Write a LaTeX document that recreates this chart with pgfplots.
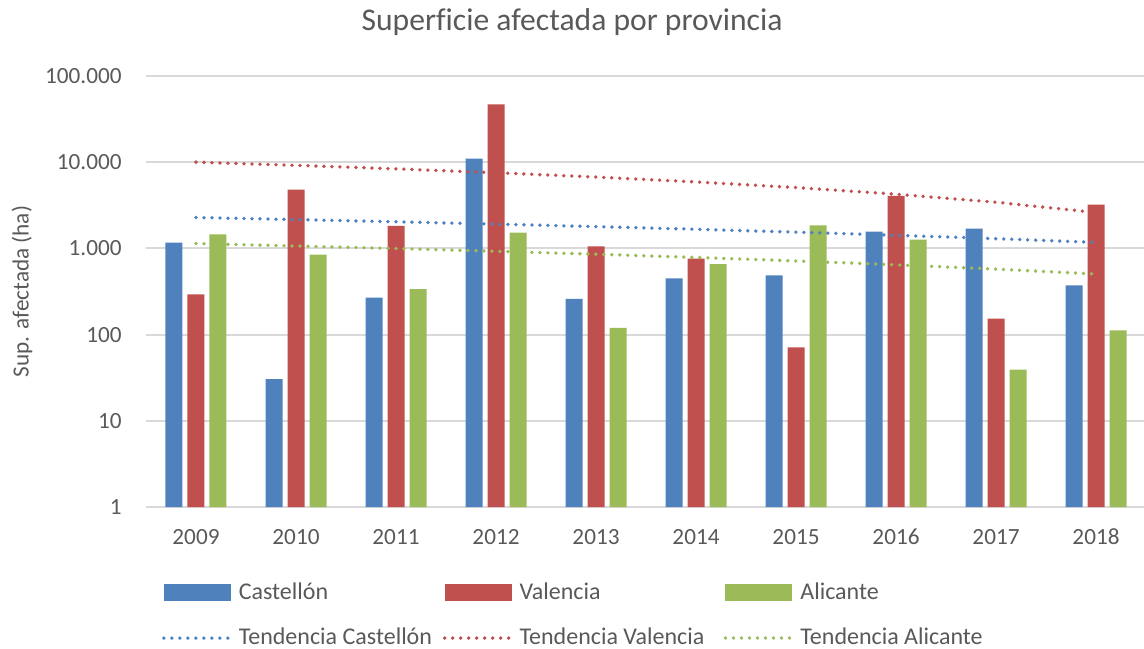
\documentclass[border=0pt]{standalone}
\usepackage{fontspec}
\setmainfont{Carlito}[Ligatures=NoCommon]
\usepackage{pgfplots}
\usepackage{pgfplotstable}
\pgfplotsset{compat=1.18}
\definecolor{cC}{HTML}{4F81BD}
\definecolor{cV}{HTML}{C0504D}
\definecolor{cA}{HTML}{9BBB59}
\definecolor{txt}{HTML}{595959}
\definecolor{grd}{HTML}{D9D9D9}
\newcommand{\lstrut}{\rule[-2pt]{0pt}{8pt}}
\pgfplotstableread{
x C V A
0 1165 293 1456
1 30.5 4800 846
2 268 1820 338
3 10990 46900 1523
4 259 1057 120
5 450 760 659
6 487 71 1852
7 1563 4055 1262
8 1694 153 39.2
9 373 3215 112
}\data
\begin{document}
\begin{tikzpicture}
\begin{axis}[
 name=ax,
 scale only axis,
 width=499pt, height=215.5pt,
 xmin=-0.5, xmax=9.48,
 ymode=log, ymin=1, ymax=100000,
 ytick={1,10,100,1000,10000,100000},
 yticklabels={1,10,100,1.000,10.000,100.000},
 xtick={0,1,2,3,4,5,6,7,8,9},
 xticklabels={2009,2010,2011,2012,2013,2014,2015,2016,2017,2018},
 ymajorgrids, grid style={grd, line width=1pt},
 axis line style={draw=none},
 major tick length=0pt,
 tick style={draw=none},
 ticklabel style={font=\fontsize{11.6}{14}\selectfont, text=txt},
 yticklabel style={inner sep=0pt, anchor=east, xshift=-12pt},
 xticklabel style={inner sep=0pt, anchor=center, yshift=-15pt},
 ylabel={Sup. afectada (ha)},
 ylabel style={at={(axis description cs:-0.1242,0.5)}, anchor=center, font=\fontsize{11.6}{14}\selectfont, text=txt},
 title={Superficie afectada por provincia},
 every axis title shift=0pt,
 title style={at={(axis description cs:0.4269,1.1253)}, anchor=center, font=\fontsize{15.8}{19}\selectfont, text=txt},
 legend columns=3,
 legend style={at={(axis description cs:0.016,-0.1757)}, anchor=north west, draw=none, fill=none, inner sep=0pt, outer sep=0pt, nodes={inner sep=0pt, text=txt, font=\fontsize{12}{14.4}\selectfont}, /tikz/every odd column/.append style={column sep=1.5pt}, row sep=12.9pt},
 trend/.style={#1, line width=1.9pt, line cap=round, dash pattern=on 0pt off 4pt,
   legend image code/.code={\draw[#1, line width=1.9pt, line cap=round, dash pattern=on 0pt off 4pt] (0pt,0pt) -- (35pt,0pt);}},
]
\addplot[ybar, bar width=8.5pt, bar shift=-11pt, fill=cC, draw=none,
 legend image code/.code={\fill[cC] (0pt,-4.25pt) rectangle (33.5pt,4.25pt);}]
 table[x=x, y=C] {\data};
\addlegendentry{\makebox[102pt][l]{\lstrut Castellón}}
\addplot[ybar, bar width=8.5pt, bar shift=0pt, fill=cV, draw=none,
 legend image code/.code={\fill[cV] (0pt,-4.25pt) rectangle (33.5pt,4.25pt);}]
 table[x=x, y=V] {\data};
\addlegendentry{\makebox[102pt][l]{\lstrut Valencia}}
\addplot[ybar, bar width=8.5pt, bar shift=11pt, fill=cA, draw=none,
 legend image code/.code={\fill[cA] (0pt,-4.25pt) rectangle (33.5pt,4.25pt);}]
 table[x=x, y=A] {\data};
\addlegendentry{\makebox[102pt][l]{\lstrut Alicante}}
\addplot[trend=cC] table[x=x, y={create col/linear regression={y=C, ymode=linear}}] {\data};
\addlegendentry{\makebox[102pt][l]{\lstrut Tendencia Castellón}}
\addplot[trend=cV] table[x=x, y={create col/linear regression={y=V, ymode=linear}}] {\data};
\addlegendentry{\makebox[102pt][l]{\lstrut Tendencia Valencia}}
\addplot[trend=cA] table[x=x, y={create col/linear regression={y=A, ymode=linear}}] {\data};
\addlegendentry{\makebox[102pt][l]{\lstrut Tendencia Alicante}}
\end{axis}
\pgfresetboundingbox
\path[use as bounding box] ([shift={(-73pt,-70.5pt)}]ax.south west) rectangle ([shift={(0pt,38pt)}]ax.north east);
\end{tikzpicture}
\end{document}
